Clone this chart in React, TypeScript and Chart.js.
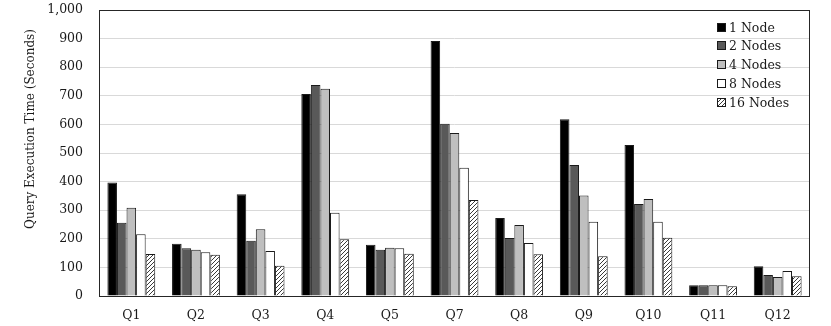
import React, { useEffect, useRef } from "react";
import { Chart, registerables } from "chart.js";

Chart.register(...registerables);

const categories = ["Q1", "Q2", "Q3", "Q4", "Q5", "Q7", "Q8", "Q9", "Q10", "Q11", "Q12"];
const seriesNames = ["1 Node", "2 Nodes", "4 Nodes", "8 Nodes", "16 Nodes"];
const node1 = [397, 183, 356, 706, 179, 892, 273, 618, 528, 38, 104];
const node2 = [256, 167, 193, 738, 162, 602, 203, 458, 322, 38, 73];
const node4 = [309, 162, 233, 725, 169, 570, 248, 351, 339, 38, 66];
const node8 = [216, 153, 157, 291, 167, 448, 185, 260, 260, 38, 87];
const node16 = [147, 144, 106, 198, 148, 336, 146, 139, 204, 34, 69];
const yTicksMax = 1000;
const yStep = 100;
const yTitle = "Query Execution Time (Seconds)";

const FONT = "'DejaVu Serif', serif";

function makeHatch(): CanvasPattern | string {
  const c = document.createElement("canvas");
  c.width = 4;
  c.height = 4;
  const g = c.getContext("2d");
  if (!g) return "#999";
  g.fillStyle = "#ffffff";
  g.fillRect(0, 0, 4, 4);
  g.strokeStyle = "#3a3a3a";
  g.lineWidth = 1;
  g.beginPath();
  g.moveTo(0, 4);
  g.lineTo(4, 0);
  g.moveTo(-1, 1);
  g.lineTo(1, -1);
  g.moveTo(3, 5);
  g.lineTo(5, 3);
  g.stroke();
  const p = g.createPattern(c, "repeat");
  return p || "#999";
}

export default function App() {
  const ref = useRef<HTMLCanvasElement | null>(null);

  useEffect(() => {
    document.body.style.margin = "0";
    const canvas = ref.current;
    if (!canvas) return;
    const hatch = makeHatch();
    const fills: any[] = ["#000000", "#595959", "#bfbfbf", "#ffffff", hatch];
    const values = [node1, node2, node4, node8, node16];

    const framePlugin = {
      id: "frameAndLegend",
      afterDatasetsDraw(chart: any) {
        const { ctx, chartArea } = chart;
        ctx.save();
        ctx.strokeStyle = "#262626";
        ctx.lineWidth = 1;
        ctx.strokeRect(
          Math.round(chartArea.left) + 0.5,
          Math.round(chartArea.top) + 0.5,
          Math.round(chartArea.right - chartArea.left) - 1,
          Math.round(chartArea.bottom - chartArea.top)
        );
        ctx.restore();
      },
      afterDraw(chart: any) {
        const { ctx } = chart;
        ctx.save();
        const bx = 717;
        const tx = 729;
        const y0 = 26.7;
        const dy = 18.7;
        ctx.font = `12.5px ${FONT}`;
        ctx.textBaseline = "alphabetic";
        ctx.textAlign = "left";
        seriesNames.forEach((name, i) => {
          const cy = y0 + i * dy;
          const top = Math.round(cy - 4);
          ctx.fillStyle = fills[i];
          ctx.fillRect(bx, top, 9, 9);
          ctx.strokeStyle = "#1a1a1a";
          ctx.lineWidth = 1;
          ctx.strokeRect(bx + 0.5, top + 0.5, 8, 8);
          ctx.fillStyle = "#1a1a1a";
          ctx.fillText(name, tx, Math.round(cy + 5));
        });
        ctx.translate(31, 129);
        ctx.rotate(-Math.PI / 2);
        ctx.font = `12px ${FONT}`;
        ctx.textAlign = "center";
        ctx.textBaseline = "middle";
        ctx.fillStyle = "#1a1a1a";
        ctx.fillText(yTitle, 0, 0);
        ctx.restore();
      },
    };

    const chart = new Chart(canvas, {
      type: "bar",
      data: {
        labels: categories,
        datasets: seriesNames.map((name, i) => ({
          label: name,
          data: values[i],
          backgroundColor: fills[i],
          borderColor: "#1a1a1a",
          borderWidth: 1,
          categoryPercentage: 0.74,
          barPercentage: 1.0,
        })),
      },
      options: {
        responsive: false,
        animation: false,
        layout: { padding: { top: 10, right: 21, left: 0, bottom: 0 } },
        plugins: {
          legend: { display: false },
          tooltip: { enabled: false },
        },
        scales: {
          x: {
            grid: { display: false, drawTicks: false },
            border: { display: false },
            ticks: {
              color: "#1a1a1a",
              font: { family: FONT, size: 12.5 },
              padding: 12,
              maxRotation: 0,
            },
            afterFit: (s: any) => {
              s.height = 30;
              s.paddingLeft = 0;
              s.paddingRight = 0;
            },
          },
          y: {
            min: 0,
            max: yTicksMax,
            ticks: {
              stepSize: yStep,
              color: "#1a1a1a",
              font: { family: FONT, size: 12.5 },
              padding: 16,
            },
            grid: { color: "#d9d9d9", drawTicks: false, lineWidth: 1 },
            border: { display: false },
            afterFit: (s: any) => {
              s.width = 99;
              s.paddingTop = 0;
              s.paddingBottom = 0;
            },
          },
        },
      },
      plugins: [framePlugin],
    });
    return () => chart.destroy();
  }, []);

  return (
    <div style={{ width: 831, height: 326 }}>
      <canvas ref={ref} width={831} height={326} style={{ display: "block" }} />
    </div>
  );
}
